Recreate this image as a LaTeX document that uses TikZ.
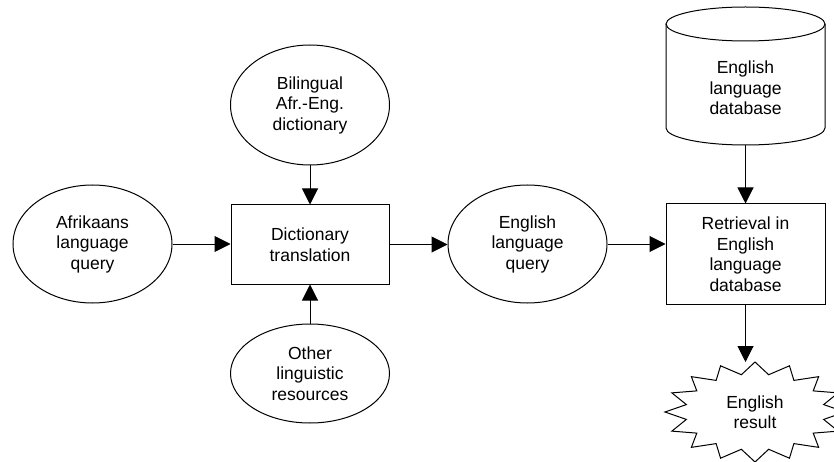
\documentclass[tikz,border=0pt]{standalone}
\usepackage{fontspec}
\setmainfont{Liberation Sans}
\usetikzlibrary{shapes.geometric,arrows.meta}
\begin{document}
\begin{tikzpicture}[x=1pt,y=-1pt,
  every node/.style={font=\fontsize{17.5}{20.5}\selectfont, align=center, inner sep=0pt},
  ell/.style={draw, ellipse, line width=1pt, minimum width=159pt, minimum height=118pt},
  boxn/.style={draw, rectangle, line width=1pt, minimum width=158pt},
  conn/.style={line width=1pt, -{Triangle[length=16pt,width=16pt]}},
  shp/.style={draw, line width=1pt}]
\useasboundingbox (0,0) rectangle (834,462);
% nodes
\node[ell] (afr) at (92.5,244) {Afrikaans\\language\\query};
\node[boxn, minimum height=79pt] (dict) at (310,244.5) {Dictionary\\translation};
\node[ell, minimum height=120pt] (bil) at (310,105) {Bilingual\\Afr.-Eng.\\dictionary};
\node[ell, minimum height=99pt] (oth) at (310,373.5) {Other\\linguistic\\resources};
\node[ell] (engq) at (527.5,244) {English\\language\\query};
\node[boxn, minimum width=159pt, minimum height=100pt] (retr) at (745.5,254) {Retrieval in\\English\\language\\database};
% database cylinder
\draw[shp] (666,24) -- (666,128) arc[start angle=180, end angle=360, x radius=79.5, y radius=-17] -- (825,24);
\draw[shp] (745.5,24) ellipse[x radius=79.5, y radius=17];
\node (db) at (745.5,88) {English\\language\\database};
\coordinate (dbbot) at (745.5,145);
% starburst
\draw[shp] plot[samples at={0,...,31}]
  ({755+(mod(\x,2)==0 ? 90 : 70)*cos(\x*11.25)},{412+(mod(\x,2)==0 ? 50 : 38)*sin(\x*11.25)}) -- cycle;
\node (res) at (755,412) {English\\result};
\coordinate (restop) at (745.5,362);
% connectors
\draw[conn] (afr.east) -- (afr.east -| dict.west);
\draw[conn] (bil.south) -- (dict.north);
\draw[conn] (oth.north) -- (dict.south);
\draw[conn] (dict.east) -- (dict.east -| engq.west);
\draw[conn] (engq.east) -- (engq.east -| retr.west);
\draw[conn] (dbbot) -- (retr.north);
\draw[conn] (retr.south) -- (restop);
\end{tikzpicture}
\end{document}
